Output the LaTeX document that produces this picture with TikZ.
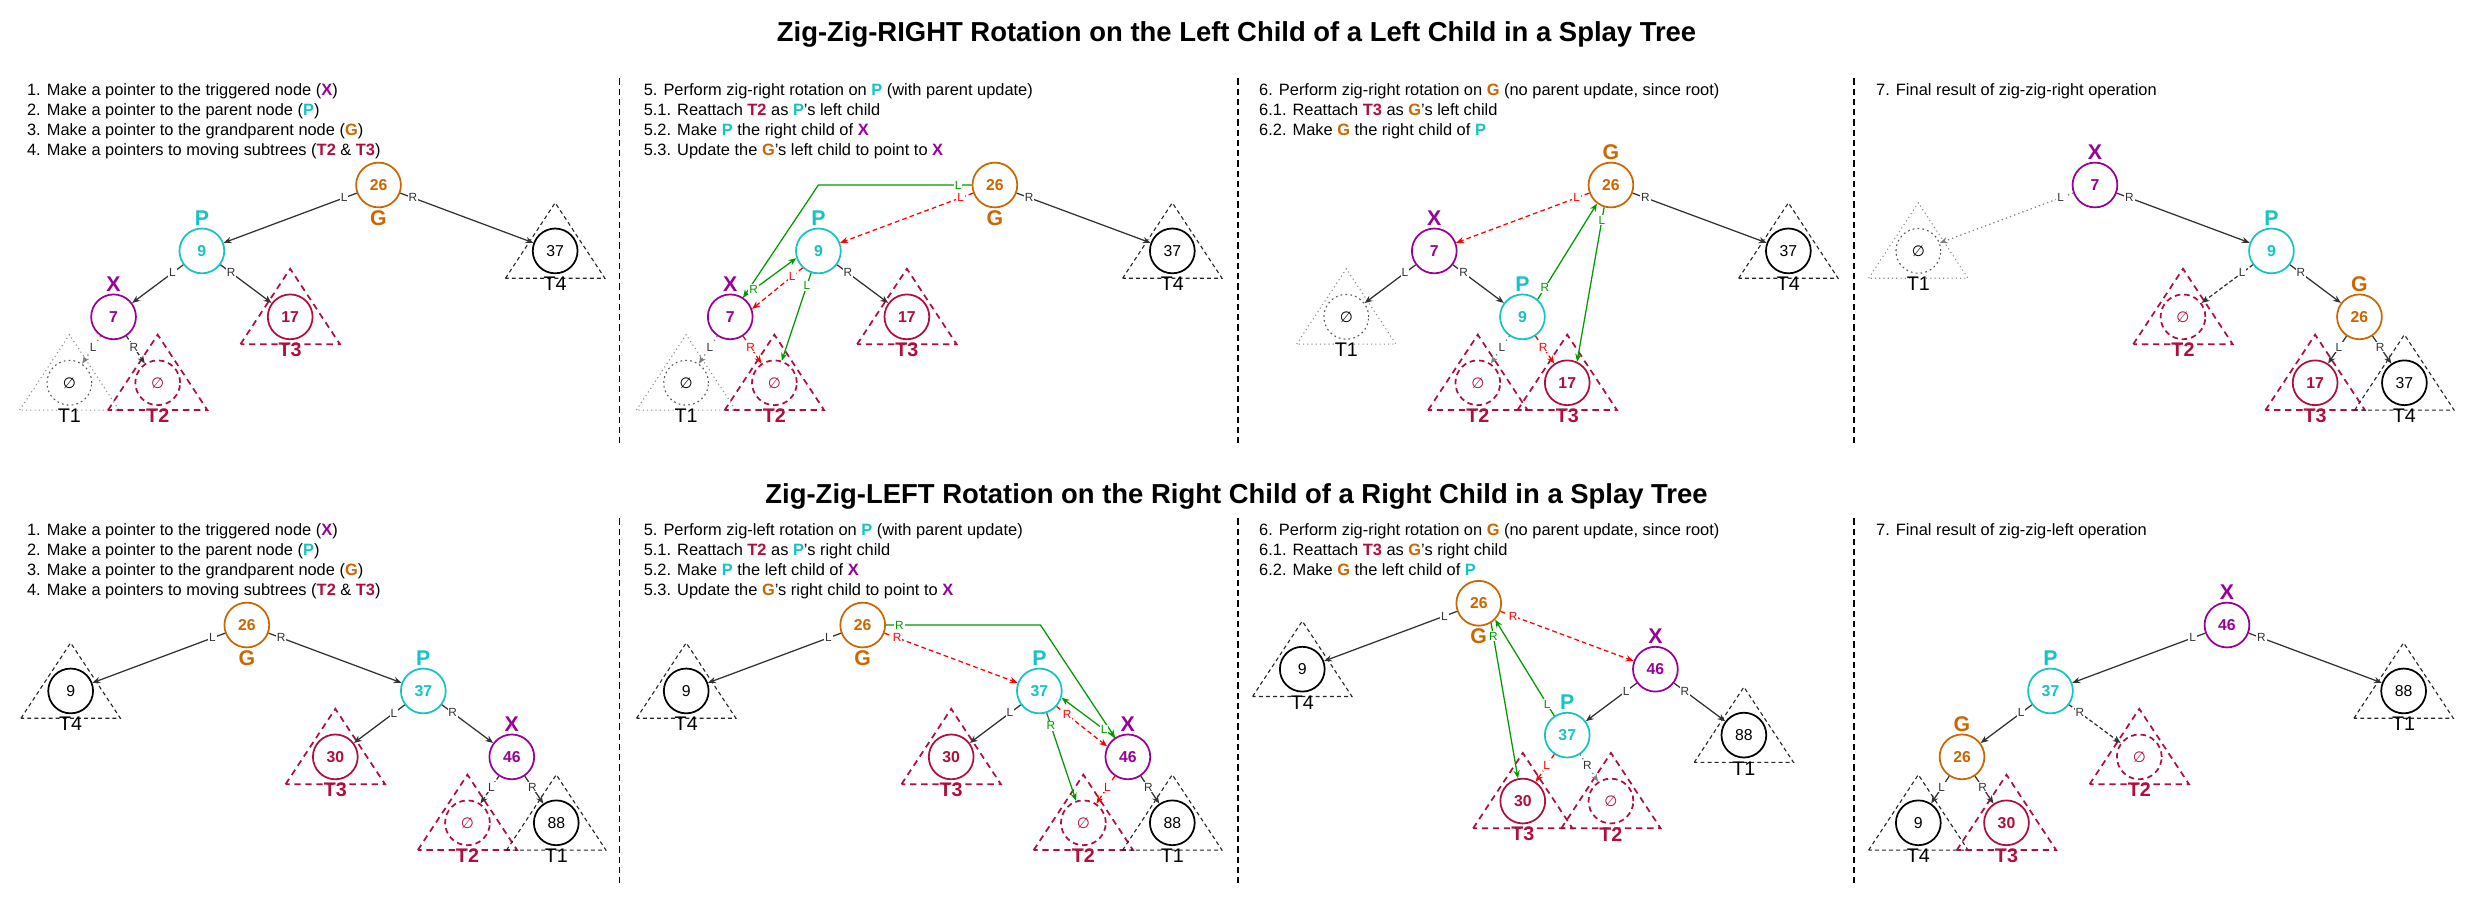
\documentclass[tikz,border=0pt]{standalone}
\usepackage{fontspec}
\setmainfont{Liberation Sans}
\newfontfamily\emptyfont{DejaVu Sans}
\usepackage{xcolor}
\usetikzlibrary{arrows.meta,decorations.markings}

\definecolor{gcol}{HTML}{CC6600}
\definecolor{pcol}{HTML}{14C4C4}
\definecolor{xcol}{HTML}{990099}
\definecolor{tcol}{HTML}{B00E3C}
\definecolor{okgreen}{HTML}{009900}
\definecolor{lncol}{HTML}{333333}

\newcommand{\nX}{\textbf{\textcolor{xcol}{X}}}
\newcommand{\nP}{\textbf{\textcolor{pcol}{P}}}
\newcommand{\nG}{\textbf{\textcolor{gcol}{G}}}
\newcommand{\nTb}{\textbf{\textcolor{tcol}{T2}}}
\newcommand{\nTc}{\textbf{\textcolor{tcol}{T3}}}
\newcommand{\vide}{{\emptyfont ∅}}

% subtree: name, x, y, kind, content, label
\newcommand{\subtree}[6]{%
  \draw[#4tri] (#2-31.5,#3+17.3) -- (#2,#3-30.5) -- (#2+31.5,#3+17.3) -- cycle;
  \node[#4sub] (#1) at (#2,#3) {#5};
  \node[#4lab] (#1l) at (#2,#3+21) {#6};
}

\tikzset{
  ring/.style={circle, line width=1.1pt, fill=white, minimum size=28.4pt, inner sep=0pt, font=\fontsize{10}{12}\selectfont\bfseries},
  gnode/.style={ring, draw=gcol, text=gcol},
  pnode/.style={ring, draw=pcol, text=pcol},
  xnode/.style={ring, draw=xcol, text=xcol},
  plainsub/.style={ring, draw=black, font=\fontsize{10}{12}\selectfont},
  voidsub/.style={ring, draw=black!65, dotted, line width=0.7pt, font=\fontsize{9.5}{11}\selectfont},
  movedsub/.style={ring, draw=tcol, text=tcol},
  movedvoidsub/.style={ring, draw=tcol, text=tcol, dash pattern=on 3.5pt off 2.5pt, font=\fontsize{9.5}{11}\selectfont},
  plaintri/.style={draw=black!85, line width=0.7pt, dash pattern=on 2.5pt off 2pt},
  voidtri/.style={draw=black!45, line width=0.7pt, dotted},
  movedtri/.style={draw=tcol, line width=1.1pt, dash pattern=on 4pt off 3pt},
  movedvoidtri/.style={movedtri},
  plainlab/.style={inner sep=0pt, font=\fontsize{12.5}{13}\selectfont},
  voidlab/.style={plainlab},
  movedlab/.style={inner sep=0pt, text=tcol, font=\fontsize{12.5}{13}\selectfont\bfseries},
  movedvoidlab/.style={movedlab},
  role/.style={inner sep=0pt, font=\fontsize{13.5}{15}\selectfont\bfseries},
  link/.style={color=lncol, line width=0.8pt, -{Stealth[length=5pt,width=4pt]}},
  nulllink/.style={link, draw=black!50, dotted},
  dashlink/.style={link, dash pattern=on 2.5pt off 1.5pt},
  newlink/.style={link, color=okgreen},
  oldlink/.style={link, color=red, dash pattern=on 3pt off 2pt},
  lbl/.style={fill=white, inner sep=0.6pt, font=\fontsize{7.5}{8}\selectfont},
  arm/.style={postaction={decorate, decoration={markings, mark=at position 8.5pt with {\node[lbl] {#1};}}}},
  txt/.style={anchor=north west, align=left, inner sep=0pt, font=\fontsize{10.4}{12.7}\selectfont},
  title/.style={anchor=base, inner sep=0pt, font=\fontsize{17.4}{21}\selectfont\bfseries},
  sepline/.style={line width=1pt, dash pattern=on 4pt off 2.5pt}
}

\begin{document}
\begin{tikzpicture}[x=1pt,y=-1pt]
\useasboundingbox (0,0) rectangle (1568,577);

\node[title] (top) at (784,26.4) {Zig-Zig-RIGHT Rotation on the Left Child of a Left Child in a Splay Tree};
\node[title] (bot) at (784,319.1) {Zig-Zig-LEFT Rotation on the Right Child of a Right Child in a Splay Tree};

\foreach \sx in {392.7,784.8,1175.6} {
  \draw[sepline] (\sx,49.7) -- (\sx,283);
  \draw[sepline] (\sx,328.6) -- (\sx,562);
}

% ---- top row, step 1-4
\node[txt] (s1) at (17,51.3) {\strut 1. Make a pointer to the triggered node (\nX)\\2. Make a pointer to the parent node (\nP)\\3. Make a pointer to the grandparent node (\nG)\\4. Make a pointers to moving subtrees (\nTb{} \& \nTc)};
\subtree{td1}{352}{159.1}{plain}{37}{T4}
\subtree{tc1}{184}{200.9}{moved}{17}{T3}
\subtree{ta1}{44}{242.7}{void}{\vide}{T1}
\subtree{tb1}{100}{242.7}{movedvoid}{\vide}{T2}
\node[gnode] (g1) at (240,117.3) {26};
\node[pnode] (p1) at (128,159.1) {9};
\node[xnode] (x1) at (72,200.9) {7};
\node[role,text=gcol] (gl1) at (240,138.3) {G};
\node[role,text=pcol] (pl1) at (128,138.1) {P};
\node[role,text=xcol] (xl1) at (72,179.9) {X};
\draw[link,arm=L] (g1) -- (p1);
\draw[link,arm=R] (g1) -- (td1);
\draw[link,arm=L] (p1) -- (x1);
\draw[link,arm=R] (p1) -- (tc1);
\draw[nulllink,arm=L] (x1) -- (ta1);
\draw[dashlink,arm=R] (x1) -- (tb1);

% ---- top row, step 5
\node[txt] (s2) at (408,51.3) {\strut 5. Perform zig-right rotation on \nP{} (with parent update)\\5.1. Reattach \nTb{} as \nP's left child\\5.2. Make \nP{} the right child of \nX\\5.3. Update the \nG's left child to point to \nX};
\subtree{td2}{743.3}{159.1}{plain}{37}{T4}
\subtree{tc2}{575}{200.9}{moved}{17}{T3}
\subtree{ta2}{435}{242.7}{void}{\vide}{T1}
\subtree{tb2}{491}{242.7}{movedvoid}{\vide}{T2}
\node[gnode] (g2) at (630.8,117.3) {26};
\node[pnode] (p2) at (518.9,159.1) {9};
\node[xnode] (x2) at (463,200.9) {7};
\node[role,text=gcol] (gl2) at (630.8,138.3) {G};
\node[role,text=pcol] (pl2) at (518.9,138.1) {P};
\node[role,text=xcol] (xl2) at (463,179.9) {X};
\coordinate (k2) at (518.9,117.3);
\draw[link,arm=R] (g2) -- (td2);
\draw[newlink,arm=L] (g2.west) -- (k2) -- (x2);
\draw[oldlink,arm=L] (g2) -- (p2);
\draw[oldlink,arm=L] (p2.227) -- (x2.20);
\draw[newlink,arm=R] (x2.57) -- (p2.198);
\draw[newlink,arm=L] (p2) -- (tb2);
\draw[oldlink,arm=R] (x2) -- (tb2);
\draw[nulllink,arm=L] (x2) -- (ta2);
\draw[link,arm=R] (p2) -- (tc2);

% ---- top row, step 6
\node[txt] (s3) at (798.2,51.3) {\strut 6. Perform zig-right rotation on \nG{} (no parent update, since root)\\6.1. Reattach \nTc{} as \nG's left child\\6.2. Make \nG{} the right child of \nP};
\subtree{td3}{1133.9}{159.1}{plain}{37}{T4}
\subtree{ta3}{853.6}{200.9}{void}{\vide}{T1}
\subtree{tb3}{937}{242.7}{movedvoid}{\vide}{T2}
\subtree{tc3}{993.7}{242.7}{moved}{17}{T3}
\node[gnode] (g3) at (1021.4,117.3) {26};
\node[xnode] (x3) at (909.4,159.1) {7};
\node[pnode] (p3) at (965.3,200.9) {9};
\node[role,text=gcol] (gl3) at (1021.4,96.3) {G};
\node[role,text=xcol] (xl3) at (909.4,138.1) {X};
\node[role,text=pcol] (pl3) at (965.3,179.9) {P};
\draw[link,arm=R] (g3) -- (td3);
\draw[oldlink,arm=L] (g3) -- (x3);
\draw[newlink,arm=R] (p3.49) -- (g3.233);
\draw[newlink,arm=L] (g3.253) -- (tc3.65);
\draw[link,arm=L] (x3) -- (ta3);
\draw[link,arm=R] (x3) -- (p3);
\draw[nulllink,arm=L] (p3) -- (tb3);
\draw[oldlink,arm=R] (p3) -- (tc3);

% ---- top row, step 7
\node[txt] (s4) at (1189.4,51.3) {\strut 7. Final result of zig-zig-right operation};
\subtree{ta4}{1216.3}{159.1}{void}{\vide}{T1}
\subtree{tb4}{1384.1}{200.9}{movedvoid}{\vide}{T2}
\subtree{tc4}{1467.9}{242.7}{moved}{17}{T3}
\subtree{td4}{1524.5}{242.7}{plain}{37}{T4}
\node[xnode] (x4) at (1328.3,117.3) {7};
\node[pnode] (p4) at (1440.2,159.1) {9};
\node[gnode] (g4) at (1496,200.9) {26};
\node[role,text=xcol] (xl4) at (1328.3,96.3) {X};
\node[role,text=pcol] (pl4) at (1440.2,138.1) {P};
\node[role,text=gcol] (gl4) at (1496,179.9) {G};
\draw[nulllink,arm=L] (x4) -- (ta4);
\draw[link,arm=R] (x4) -- (p4);
\draw[dashlink,arm=L] (p4) -- (tb4);
\draw[link,arm=R] (p4) -- (g4);
\draw[link,arm=L] (g4) -- (tc4);
\draw[link,arm=R] (g4) -- (td4);

% ---- bottom row, step 1-4
\node[txt] (s5) at (17,330.3) {\strut 1. Make a pointer to the triggered node (\nX)\\2. Make a pointer to the parent node (\nP)\\3. Make a pointer to the grandparent node (\nG)\\4. Make a pointers to moving subtrees (\nTb{} \& \nTc)};
\subtree{td5}{44.8}{438.1}{plain}{9}{T4}
\subtree{tc5}{212.6}{479.9}{moved}{30}{T3}
\subtree{tb5}{296.4}{521.7}{movedvoid}{\vide}{T2}
\subtree{ta5}{352.7}{521.7}{plain}{88}{T1}
\node[gnode] (g5) at (156.5,396.3) {26};
\node[pnode] (p5) at (268.4,438.1) {37};
\node[xnode] (x5) at (324.5,479.9) {46};
\node[role,text=gcol] (gl5) at (156.5,417.3) {G};
\node[role,text=pcol] (pl5) at (268.4,417.1) {P};
\node[role,text=xcol] (xl5) at (324.5,458.9) {X};
\draw[link,arm=L] (g5) -- (td5);
\draw[link,arm=R] (g5) -- (p5);
\draw[link,arm=L] (p5) -- (tc5);
\draw[link,arm=R] (p5) -- (x5);
\draw[dashlink,arm=L] (x5) -- (tb5);
\draw[link,arm=R] (x5) -- (ta5);

% ---- bottom row, step 5
\node[txt] (s6) at (408,330.3) {\strut 5. Perform zig-left rotation on \nP{} (with parent update)\\5.1. Reattach \nTb{} as \nP's right child\\5.2. Make \nP{} the left child of \nX\\5.3. Update the \nG's right child to point to \nX};
\subtree{td6}{435.1}{438.1}{plain}{9}{T4}
\subtree{tc6}{603.1}{479.9}{moved}{30}{T3}
\subtree{tb6}{686.9}{521.7}{movedvoid}{\vide}{T2}
\subtree{ta6}{743.3}{521.7}{plain}{88}{T1}
\node[gnode] (g6) at (547,396.3) {26};
\node[pnode] (p6) at (659,438.1) {37};
\node[xnode] (x6) at (715.1,479.9) {46};
\node[role,text=gcol] (gl6) at (547,417.3) {G};
\node[role,text=pcol] (pl6) at (659,417.1) {P};
\node[role,text=xcol] (xl6) at (715.1,458.9) {X};
\coordinate (k6) at (659.7,396.3);
\draw[link,arm=L] (g6) -- (td6);
\draw[newlink,arm=R] (g6.east) -- (k6) -- (x6);
\draw[oldlink,arm=R] (g6) -- (p6);
\draw[oldlink,arm=R] (p6.318) -- (x6.153);
\draw[newlink,arm=L] (x6.124) -- (p6.343);
\draw[newlink,arm=R] (p6) -- (tb6);
\draw[oldlink,arm=L] (x6) -- (tb6);
\draw[link,arm=L] (p6) -- (tc6);
\draw[link,arm=R] (x6) -- (ta6);

% ---- bottom row, step 6
\node[txt] (s7) at (798.2,330.3) {\strut 6. Perform zig-right rotation on \nG{} (no parent update, since root)\\6.1. Reattach \nTc{} as \nG's right child\\6.2. Make \nG{} the left child of \nP};
\subtree{td7}{825.7}{424.3}{plain}{9}{T4}
\subtree{ta7}{1105.7}{466.1}{plain}{88}{T1}
\subtree{tc7}{965.5}{507.9}{moved}{30}{T3}
\subtree{tb7}{1021.4}{507.9}{movedvoid}{\vide}{T2}
\node[gnode] (g7) at (937.6,382.5) {26};
\node[xnode] (x7) at (1049.6,424.3) {46};
\node[pnode] (p7) at (993.7,466.1) {37};
\node[role,text=gcol] (gl7) at (937.6,403.5) {G};
\node[role,text=xcol] (xl7) at (1049.6,403.3) {X};
\node[role,text=pcol] (pl7) at (993.7,445.1) {P};
\draw[link,arm=L] (g7) -- (td7);
\draw[oldlink,arm=R] (g7) -- (x7);
\draw[newlink,arm=L] (p7.124) -- (g7.315);
\draw[newlink,arm=R] (g7.302) -- (tc7.102);
\draw[link,arm=L] (x7) -- (p7);
\draw[link,arm=R] (x7) -- (ta7);
\draw[oldlink,arm=L] (p7) -- (tc7);
\draw[nulllink,arm=R] (p7) -- (tb7);

% ---- bottom row, step 7
\node[txt] (s8) at (1189.4,330.3) {\strut 7. Final result of zig-zig-left operation};
\subtree{ta8}{1524}{438.1}{plain}{88}{T1}
\subtree{tb8}{1356.4}{479.9}{movedvoid}{\vide}{T2}
\subtree{td8}{1216.3}{521.7}{plain}{9}{T4}
\subtree{tc8}{1272.2}{521.7}{moved}{30}{T3}
\node[xnode] (x8) at (1412,396.3) {46};
\node[pnode] (p8) at (1300.1,438.1) {37};
\node[gnode] (g8) at (1244,479.9) {26};
\node[role,text=xcol] (xl8) at (1412,375.3) {X};
\node[role,text=pcol] (pl8) at (1300.1,417.1) {P};
\node[role,text=gcol] (gl8) at (1244,458.9) {G};
\draw[link,arm=L] (x8) -- (p8);
\draw[link,arm=R] (x8) -- (ta8);
\draw[link,arm=L] (p8) -- (g8);
\draw[dashlink,arm=R] (p8) -- (tb8);
\draw[link,arm=L] (g8) -- (td8);
\draw[link,arm=R] (g8) -- (tc8);
\end{tikzpicture}
\end{document}
